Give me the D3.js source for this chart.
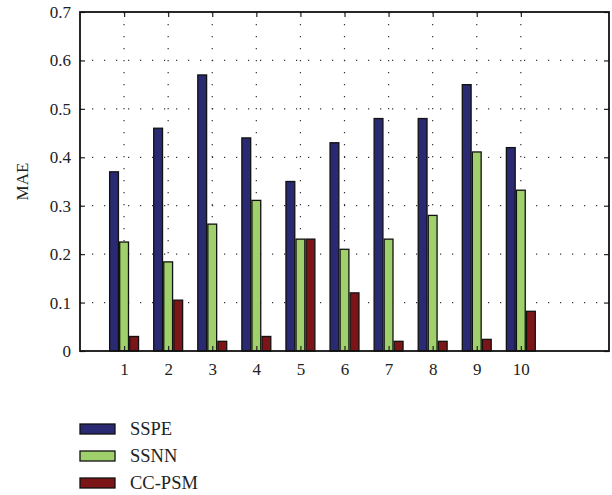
<!DOCTYPE html>
<html>
<head>
<meta charset="utf-8">
<script src="https://cdn.jsdelivr.net/npm/d3@7"></script>
<style>
  body { margin: 0; background: #fff; }
  text { font-family: "Liberation Serif", "DejaVu Serif", serif; fill: #222; }
</style>
</head>
<body>
<div id="chart"></div>
<script>
// data
var categories = [1, 2, 3, 4, 5, 6, 7, 8, 9, 10];
var seriesNames = ["SSPE", "SSNN", "CC-PSM"];
var sspe  = [0.37, 0.46, 0.57, 0.44, 0.35, 0.43, 0.48, 0.48, 0.55, 0.42];
var ssnn  = [0.225, 0.184, 0.262, 0.311, 0.231, 0.21, 0.231, 0.28, 0.411, 0.332];
var ccpsm = [0.03, 0.105, 0.02, 0.03, 0.231, 0.12, 0.02, 0.02, 0.024, 0.082];
var yTicks = [0, 0.1, 0.2, 0.3, 0.4, 0.5, 0.6, 0.7];
var colors = ["#2a2a72", "#9fd06c", "#7c1518"];

var series = [sspe, ssnn, ccpsm];

//set svg dimensions
var svgWidth = 612;
var svgHeight = 495;

var margin = { top: 12, right: 3, bottom: 144, left: 80 };
var width = svgWidth - margin.left - margin.right;
var height = svgHeight - margin.top - margin.bottom;

var svg = d3.select("#chart").append("svg")
    .attr("width", svgWidth)
    .attr("height", svgHeight);

var chartGroup = svg.append("g")
    .attr("transform", `translate(${margin.left}, ${margin.top})`);

// scales
var xScale = d3.scaleLinear().domain([0, 12]).range([0, width]);
var yScale = d3.scaleLinear().domain([0, 0.7]).range([height, 0]);

// dotted grid
chartGroup.append("g").selectAll("line.hg")
    .data(yTicks.slice(1, -1))
    .enter().append("line")
    .attr("x1", 0).attr("x2", width)
    .attr("y1", d => yScale(d)).attr("y2", d => yScale(d))
    .attr("stroke", "#333").attr("stroke-width", 1.2)
    .attr("stroke-dasharray", "1.2,10.8");

chartGroup.append("g").selectAll("line.vg")
    .data(categories)
    .enter().append("line")
    .attr("x1", d => xScale(d)).attr("x2", d => xScale(d))
    .attr("y1", 0).attr("y2", height)
    .attr("stroke", "#333").attr("stroke-width", 1.2)
    .attr("stroke-dasharray", "1.2,10.8");

// bars
var barStep = 0.228;
var barWidth = 0.2;
series.forEach(function(vals, s) {
    chartGroup.append("g").selectAll("rect")
        .data(vals)
        .enter().append("rect")
        .attr("x", (d, i) => xScale(categories[i] + (s - 1) * barStep - barWidth / 2))
        .attr("width", xScale(barWidth) - xScale(0))
        .attr("y", d => yScale(d))
        .attr("height", d => yScale(0) - yScale(d))
        .attr("fill", colors[s])
        .attr("stroke", "#111")
        .attr("stroke-width", 1.3);
});

// axes with inward ticks, mirrored
var tick = 5;
chartGroup.append("g")
    .attr("transform", `translate(0, ${height})`)
    .call(d3.axisBottom(xScale).tickValues(categories).tickSizeInner(-tick).tickSizeOuter(0).tickPadding(12))
    .call(g => g.select(".domain").remove());

chartGroup.append("g")
    .call(d3.axisTop(xScale).tickValues(categories).tickSizeInner(-tick).tickSizeOuter(0).tickFormat(""))
    .call(g => g.select(".domain").remove());

chartGroup.append("g")
    .call(d3.axisLeft(yScale).tickValues(yTicks).tickSizeInner(-tick).tickSizeOuter(0).tickPadding(9)
        .tickFormat(d => d === 0 ? "0" : d3.format(".1f")(d)))
    .call(g => g.select(".domain").remove());

chartGroup.append("g")
    .attr("transform", `translate(${width}, 0)`)
    .call(d3.axisRight(yScale).tickValues(yTicks).tickSizeInner(-tick).tickSizeOuter(0).tickFormat(""))
    .call(g => g.select(".domain").remove());

chartGroup.selectAll(".tick text")
    .attr("font-size", "17px")
    .attr("font-family", "Liberation Serif, serif")
    .attr("fill", "#222");
chartGroup.selectAll(".tick line").attr("stroke", "#222").attr("stroke-width", 1.2);

// box
chartGroup.append("rect")
    .attr("x", 0).attr("y", 0)
    .attr("width", width).attr("height", height)
    .attr("fill", "none")
    .attr("stroke", "#111")
    .attr("stroke-width", 1.8);

// y label
chartGroup.append("text")
    .attr("transform", `translate(${-52}, ${height / 2}) rotate(-90)`)
    .attr("text-anchor", "middle")
    .attr("font-size", "17px")
    .text("MAE");

// legend
var legend = svg.append("g").attr("transform", "translate(80, 424)");
seriesNames.forEach(function(name, i) {
    var row = legend.append("g").attr("transform", `translate(0, ${i * 27})`);
    row.append("rect")
        .attr("x", 0).attr("y", 0)
        .attr("width", 35).attr("height", 10)
        .attr("fill", colors[i])
        .attr("stroke", "#111")
        .attr("stroke-width", 1.3);
    row.append("text")
        .attr("x", 50).attr("y", 11)
        .attr("font-size", "18.5px")
        .text(name);
});
</script>
</body>
</html>
